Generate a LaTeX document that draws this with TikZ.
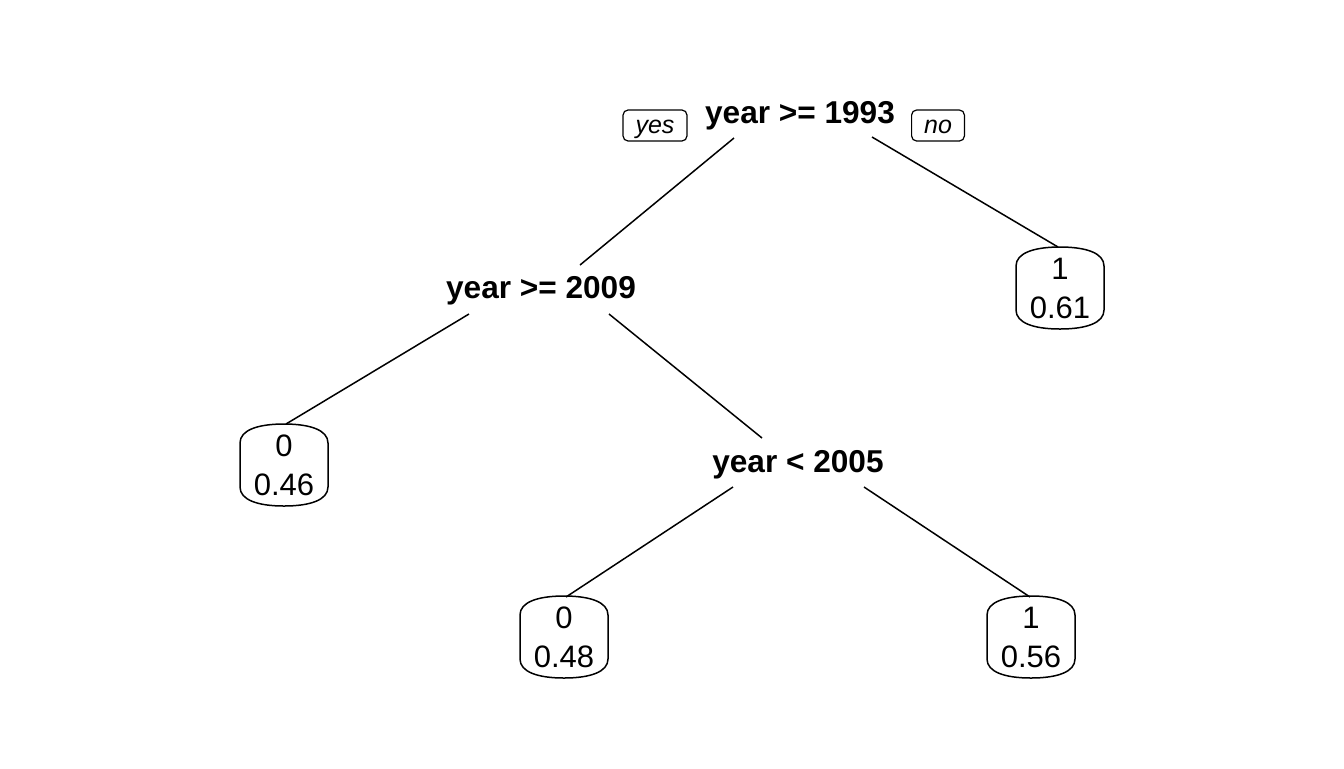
\documentclass[tikz,border=0pt]{standalone}
\usepackage{fontspec}
\setmainfont{Liberation Sans}
\begin{document}
\begin{tikzpicture}[x=0.5pt,y=-0.5pt,
 split/.style={font=\fontsize{15.8}{19}\selectfont\bfseries, inner sep=0pt},
 leaf/.style={font=\fontsize{15.5}{19.5}\selectfont, align=center, inner sep=0pt},
 tag/.style={draw, rounded corners=2.5pt, font=\fontsize{12.5}{15}\selectfont\itshape, inner xsep=6.25pt, inner ysep=0pt, text height=11.5pt, text depth=4pt, line width=0.6pt},
 conn/.style={line width=0.75pt},
 leafline/.style={line width=0.75pt}]
\useasboundingbox (0,0) rectangle (1344,768);
\node[split] (root) at (800,116) {year >= 1993};
\node[tag] (yes) at (655,125.5) {yes};
\node[tag] (no) at (938,125.5) {no};
\node[split] (n2) at (541,291) {year >= 2009};
\node[split] (n3) at (798,465) {year < 2005};
\node[leaf] (l1) at (1060,288) {1\\0.61};
\node[leaf] (l2) at (284,465) {0\\0.46};
\node[leaf] (l3) at (564,637) {0\\0.48};
\node[leaf] (l4) at (1031,637) {1\\0.56};
\foreach \n in {l1,l2,l3,l4}{
 \begin{scope}[shift={(\n.center)}]
 \draw[leafline] (-44,-22) .. controls (-44,-35) and (-26,-41) .. (0,-41) .. controls (26,-41) and (44,-35) .. (44,-22) -- (44,22) .. controls (44,35) and (26,41) .. (0,41) .. controls (-26,41) and (-44,35) .. (-44,22) -- cycle;
 \end{scope}}
\draw[conn] ([shift={(-66,22)}]root.center) -- ([shift={(39,-26)}]n2.center);
\draw[conn] ([shift={(72,21)}]root.center) -- ([shift={(-2,-41)}]l1.center);
\draw[conn] ([shift={(-72,23)}]n2.center) -- ([shift={(2,-41)}]l2.center);
\draw[conn] ([shift={(68,23)}]n2.center) -- ([shift={(-36,-27)}]n3.center);
\draw[conn] ([shift={(-65,22)}]n3.center) -- ([shift={(2,-40)}]l3.center);
\draw[conn] ([shift={(66,22)}]n3.center) -- ([shift={(-1,-40)}]l4.center);
\end{tikzpicture}
\end{document}
